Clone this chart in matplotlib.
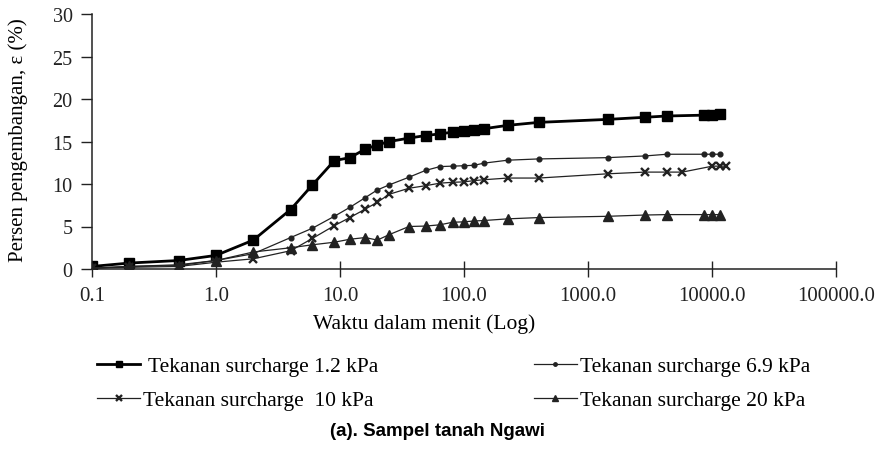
import matplotlib
matplotlib.use("Agg")
import matplotlib.pyplot as plt
from matplotlib.ticker import FixedLocator, NullLocator

# ---- data ----
t_a = [0.1, 0.2, 0.5, 1, 2, 4, 6, 9, 12, 16, 20, 25, 36, 49, 64, 81, 100, 121, 144,
       225, 400, 1440, 2880, 4320, 8640, 10080, 11520]
t_c = [0.1, 0.2, 0.5, 1, 2, 4, 6, 9, 12, 16, 20, 25, 36, 49, 64, 81, 100, 121, 144,
       225, 400, 1440, 2880, 4320, 5760, 10080, 11520, 12960]

s12 = [0.3, 0.7, 1.0, 1.6, 3.4, 7.0, 9.9, 12.75, 13.1, 14.1, 14.6, 15.0, 15.4, 15.7,
       15.9, 16.1, 16.2, 16.35, 16.5, 16.9, 17.25, 17.6, 17.85, 18.0, 18.1, 18.15, 18.2]
s69 = [0.1, 0.3, 0.5, 1.0, 1.8, 3.7, 4.8, 6.2, 7.25, 8.4, 9.3, 9.9, 10.8, 11.6,
       12.05, 12.1, 12.15, 12.2, 12.45, 12.8, 12.95, 13.1, 13.3, 13.5, 13.5, 13.5, 13.5]
s10 = [0.1, 0.2, 0.3, 0.8, 1.2, 2.15, 3.6, 5.1, 6.05, 7.05, 7.85, 8.8, 9.5, 9.8,
       10.1, 10.2, 10.25, 10.4, 10.5, 10.7, 10.7, 11.2, 11.4, 11.4, 11.4, 12.1, 12.1, 12.1]
s20 = [0.1, 0.3, 0.4, 1.0, 2.0, 2.5, 2.85, 3.15, 3.5, 3.7, 3.4, 4.05, 5.0, 5.05,
       5.2, 5.5, 5.55, 5.65, 5.7, 5.9, 6.05, 6.2, 6.35, 6.4, 6.4, 6.4, 6.4]

labels = [" Tekanan surcharge 1.2 kPa", "Tekanan surcharge 6.9 kPa",
          "Tekanan surcharge  10 kPa", "Tekanan surcharge 20 kPa"]
x_ticks = [0.1, 1, 10, 100, 1000, 10000, 100000]
x_ticklabels = ["0.1", "1.0", "10.0", "100.0", "1000.0", "10000.0", "100000.0"]
y_ticks = [0, 5, 10, 15, 20, 25, 30]

plt.rcParams['font.family'] = ['Liberation Serif', 'DejaVu Serif']

fig = plt.figure(figsize=(8.8, 4.52), dpi=100)
ax = fig.add_axes([92/880, 1-270/452, (836-92)/880, 255/452])

h1, = ax.plot(t_a, s12, color='black', lw=2.0, marker='s', ms=7, label=labels[0])
h2, = ax.plot(t_a, s69, color='#222222', lw=0.9, marker='o', ms=3.4, label=labels[1])
h3, = ax.plot(t_c, s10, color='#222222', lw=0.9, marker='x', ms=6, mew=1.7, label=labels[2])
h4, = ax.plot(t_a, s20, color='#222222', lw=0.9, marker='^', ms=6.5, label=labels[3])

ax.set_xscale('log')
ax.set_xlim(0.1, 100000)
ax.set_ylim(0, 30)
ax.xaxis.set_major_locator(FixedLocator(x_ticks))
ax.xaxis.set_minor_locator(NullLocator())
ax.set_xticklabels(x_ticklabels)
ax.set_yticks(y_ticks)
ax.tick_params(axis='x', direction='inout', length=12, width=1, labelsize=15, pad=6,
               colors='#222222')
ax.tick_params(axis='y', direction='out', length=8, width=1, labelsize=14.5, pad=6,
               colors='#222222')
for s in ['top', 'right']:
    ax.spines[s].set_visible(False)
for s in ['left', 'bottom']:
    ax.spines[s].set_color('#222222')
    ax.spines[s].set_linewidth(1.1)

fig.text(18/880, 1-140/452, "Persen pengembangan, ε (%)", rotation=90,
         ha='center', va='center', fontsize=15)
fig.text(424/880, 1-324/452, "Waktu dalam menit (Log)", ha='center', va='center', fontsize=15.5)

leg = fig.legend(handles=[h1, h3, h2, h4], labels=[labels[0], labels[2], labels[1], labels[3]],
                 ncol=2, loc='upper left', bbox_to_anchor=(97/880, 1-357/452),
                 frameon=False, fontsize=15.5, handlelength=2.0, handletextpad=0.15,
                 columnspacing=7.2, labelspacing=0.66, borderaxespad=0, borderpad=0)
for lh, ms in zip(leg.legend_handles, [5, 4.5, 2.5, 4.5]):
    lh.set_markersize(ms)

fig.text(437/880, 1-432/452, "(a). Sampel tanah Ngawi", ha='center', va='center',
         fontsize=13.5, fontweight='bold', family=['Liberation Sans', 'DejaVu Sans'])

fig.savefig("out.png", dpi=100)
